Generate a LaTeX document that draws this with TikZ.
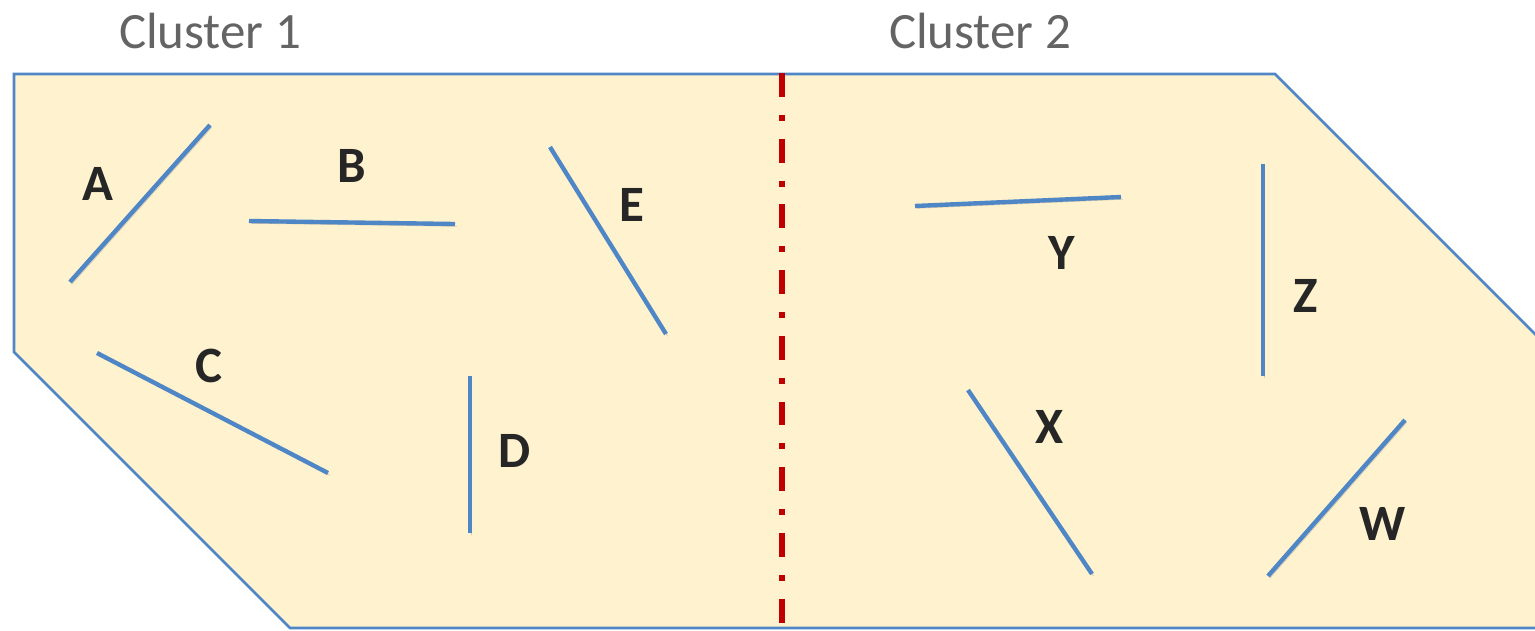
\documentclass[tikz,border=0pt]{standalone}
\usepackage{fontspec}
\setmainfont{Carlito}
\usetikzlibrary{calc}

\definecolor{zonefill}{RGB}{255,242,206}
\definecolor{segblue}{RGB}{79,134,198}
\definecolor{splitred}{RGB}{192,0,0}
\definecolor{headgray}{RGB}{100,100,100}
\definecolor{lettergray}{RGB}{38,38,38}

\begin{document}
\begin{tikzpicture}[
  x=0.02cm, y=-0.02cm,
  zone/.style={draw=segblue, line width=1.5pt, fill=zonefill, line join=miter},
  shade/.style={preaction={draw=black, opacity=0.16, transform canvas={shift={(1pt,-1.3pt)}}}},
  seg/.style={draw=segblue, line width=2.5pt, shade},
  split/.style={draw=splitred, line width=3.4pt, dash pattern=on 13.6pt off 10.2pt on 3.4pt off 10.2pt},
  head/.style={font=\fontsize{29}{34}\selectfont, text=headgray, anchor=base, inner sep=0pt},
  lbl/.style={font=\bfseries\fontsize{29}{34}\selectfont, text=lettergray, anchor=base, inner sep=0pt}
]
\useasboundingbox (0,0) rectangle (1535,630);

% the two clusters share one shape
\path[zone] (14,74) -- (1275,74) -- (1540,339) -- (1540,628) -- (290,628) -- (14,352) -- cycle;
\draw[split] (782,73) -- (782,628);

\node[head] (c1) at (210,48) {Cluster 1};
\node[head] (c2) at (980,48) {Cluster 2};

% cluster 1
\draw[seg] (70,282) -- (210,125);
\draw[seg] (249,221) -- (455,224);
\draw[seg] (550,147) -- (666,334);
\draw[seg] (97,353) -- (328,473);
\draw[seg] (470,376) -- (470,533);
\node[lbl] (a) at (98,200) {A};
\node[lbl] (b) at (352,182) {B};
\node[lbl] (e) at (632,221) {E};
\node[lbl] (c) at (209,382) {C};
\node[lbl] (d) at (515,467) {D};

% cluster 2
\draw[seg] (915,206) -- (1121,197);
\draw[seg] (1263,164) -- (1263,376);
\draw[seg] (968,390) -- (1092,574);
\draw[seg] (1268,576) -- (1405,420);
\node[lbl] (y) at (1062,269) {Y};
\node[lbl] (z) at (1306,312) {Z};
\node[lbl] (x) at (1050,443) {X};
\node[lbl] (w) at (1383,540) {W};
\end{tikzpicture}
\end{document}
